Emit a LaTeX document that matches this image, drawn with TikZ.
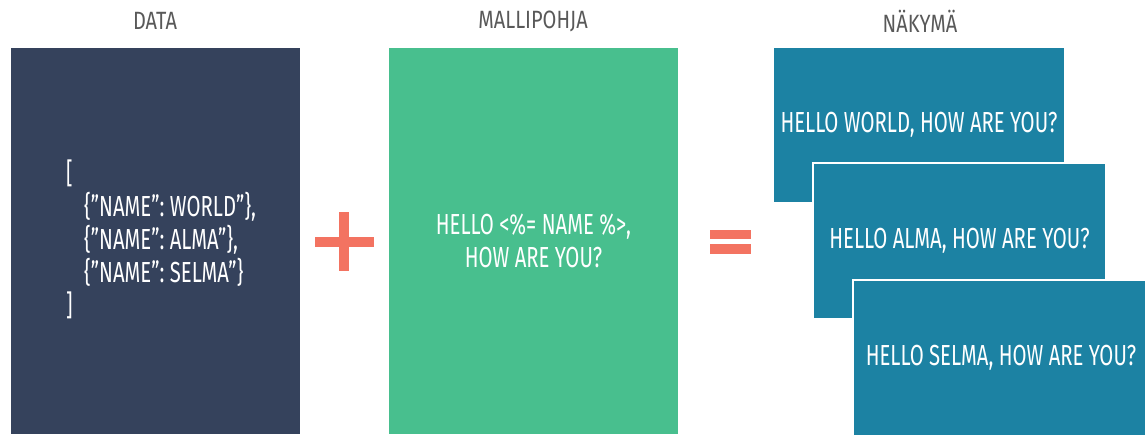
\documentclass[tikz,border=0pt]{standalone}
\usepackage{fontspec}
\setmainfont[FakeStretch=0.70]{Fira Sans}
\newfontfamily\headfont[FakeStretch=0.8]{Fira Sans}
\definecolor{navy}{HTML}{35425C}
\definecolor{mint}{HTML}{48BF8E}
\definecolor{petrol}{HTML}{1C82A3}
\definecolor{coral}{HTML}{F37361}
\definecolor{heading}{HTML}{595959}
\tikzset{
  panel/.style={draw=white, line width=1.2pt, inner sep=0pt, text=white,
    font=\fontsize{29}{33}\selectfont, align=center},
  title/.style={text=heading, font=\headfont\fontsize{25}{28}\selectfont, inner sep=0pt},
  sign/.style={fill=coral}
}
\begin{document}
\begin{tikzpicture}[x=1pt, y=-1pt]
  \useasboundingbox (0,0) rectangle (1145,434);
  % column headings
  \node[title] (hdata) at (155,21) {DATA};
  \node[title] (htpl) at (533,21) {MALLIPOHJA};
  \node[title] (hview) at (920,21) {NÄKYMÄ};
  % data panel
  \node[panel, fill=navy, minimum width=291pt, minimum height=388pt] (data) at (155.5,241) {};
  \node[anchor=west, text=white, align=left, inner sep=0pt,
        font=\fontsize{29}{33}\selectfont] (json) at (66,239)
    {[\\
     \hspace*{18pt}\{”NAME”: WORLD”\},\\
     \hspace*{18pt}\{”NAME”: ALMA”\},\\
     \hspace*{18pt}\{”NAME”: SELMA”\}\\
     ]};
  % plus sign
  \fill[sign] (315,237) rectangle (374,247);
  \fill[sign] (339,212) rectangle (349,271);
  % template panel
  \node[panel, fill=mint, minimum width=291pt, minimum height=388pt] (tpl) at (533.5,241)
    {HELLO <\%= NAME \%>,\\HOW ARE YOU?};
  % equals sign
  \fill[sign] (710,230) rectangle (751,239);
  \fill[sign] (710,244) rectangle (751,254);
  % rendered views
  \node[panel, fill=petrol, minimum width=292pt, minimum height=156pt] (v1) at (919,125)
    {HELLO WORLD, HOW ARE YOU?};
  \node[panel, fill=petrol, minimum width=293pt, minimum height=156pt] (v2) at (959.5,241)
    {HELLO ALMA, HOW ARE YOU?};
  \node[panel, fill=petrol, minimum width=296pt, minimum height=156pt] (v3) at (1001,358)
    {HELLO SELMA, HOW ARE YOU?};
\end{tikzpicture}
\end{document}
